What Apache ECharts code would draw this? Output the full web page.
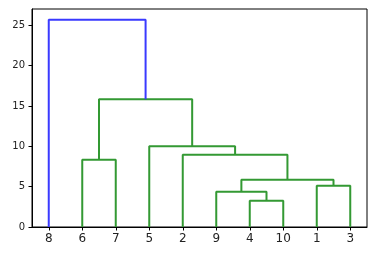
<!DOCTYPE html>
<html>
<head>
<meta charset="utf-8">
<script src="https://cdn.jsdelivr.net/npm/echarts@6/dist/echarts.min.js"></script>
<style>html,body{margin:0;padding:0;background:#fff;}#c{width:390px;height:268px;}</style>
</head>
<body>
<div id="c"></div>
<script>
// Leaves in dendrogram display order
var leafLabels = ['8', '6', '7', '5', '2', '9', '4', '10', '1', '3'];
// Merges (children may be leaf labels or earlier merge ids 'c1'..), heights, colours
var mergeA = ['4', '9', '1', 'c2', '6', '2', '5', 'c5', '8'];
var mergeB = ['10', 'c1', '3', 'c3', '7', 'c4', 'c6', 'c7', 'c8'];
var mergeHeight = [3.27, 4.38, 5.13, 5.87, 8.35, 8.97, 10.0, 15.83, 25.71];
var mergeColor = ['g', 'g', 'g', 'g', 'g', 'g', 'g', 'g', 'b'];
var yTicks = [0, 5, 10, 15, 20, 25];

var palette = { g: '#339933', b: '#3a3aff' };
var pos = {}, hgt = {};
var leafPos = [];
leafLabels.forEach(function (l, i) { pos[l] = 5 + 10 * i; hgt[l] = 0; leafPos.push(5 + 10 * i); });
var series = [];
for (var i = 0; i < mergeA.length; i++) {
  var a = mergeA[i], b = mergeB[i], h = mergeHeight[i];
  var xa = pos[a], xb = pos[b];
  var left = xa < xb ? a : b, right = xa < xb ? b : a;
  series.push({
    type: 'line', showSymbol: false, silent: true, animation: false,
    lineStyle: { color: palette[mergeColor[i]], width: 2 },
    data: [[pos[left], hgt[left]], [pos[left], h], [pos[right], h], [pos[right], hgt[right]]]
  });
  var id = 'c' + (i + 1);
  pos[id] = (xa + xb) / 2; hgt[id] = h;
}

var chart = echarts.init(document.getElementById('c'), null, { renderer: 'canvas' });
chart.setOption({
  animation: false,
  grid: { left: 32, right: 23, top: 9, bottom: 41, show: true, borderColor: '#000', borderWidth: 1, backgroundColor: 'transparent' },
  xAxis: {
    type: 'value', min: 0, max: 10 * leafLabels.length,
    splitLine: { show: false },
    axisLine: { show: true, onZero: false, lineStyle: { color: '#000', width: 1 } },
    axisTick: { show: true, length: 3.5, customValues: leafPos, lineStyle: { color: '#000' } },
    axisLabel: {
      customValues: leafPos, margin: 6, color: '#222', fontSize: 12, fontFamily: 'DejaVu Sans',
      formatter: function (v) { return leafLabels[Math.round((v - 5) / 10)]; }
    }
  },
  yAxis: {
    type: 'value', min: 0, max: 27.03,
    splitLine: { show: false },
    axisLine: { show: true, lineStyle: { color: '#000', width: 1 } },
    axisTick: { show: true, length: 3.5, customValues: yTicks, lineStyle: { color: '#000' } },
    axisLabel: { customValues: yTicks, margin: 7, color: '#222', fontSize: 10, fontFamily: 'DejaVu Sans' }
  },
  series: series
});
</script>
</body>
</html>
